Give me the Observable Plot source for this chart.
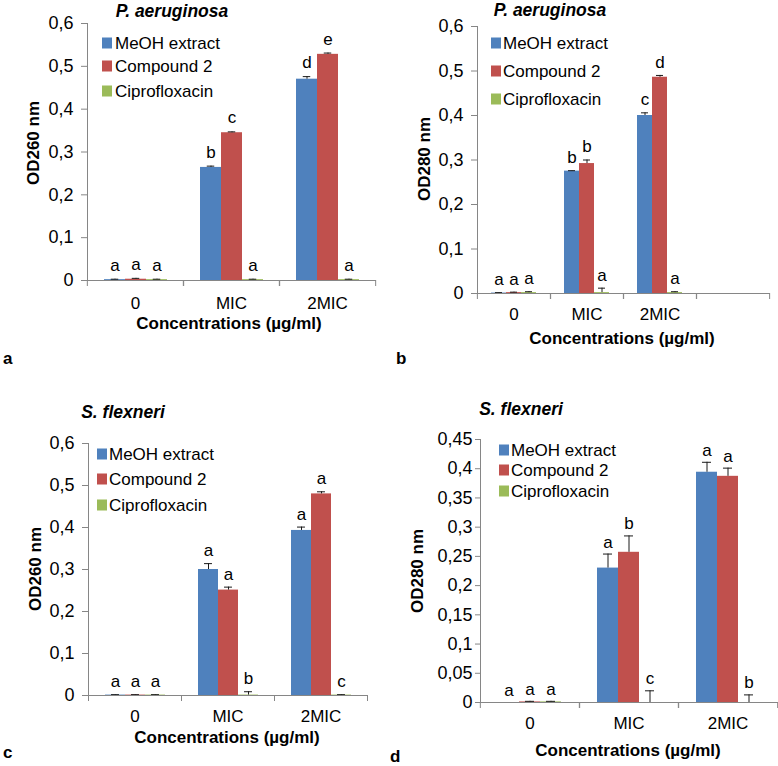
<!DOCTYPE html>
<html><head><meta charset="utf-8">
<script src="https://cdn.jsdelivr.net/npm/d3@7"></script>
<script src="https://cdn.jsdelivr.net/npm/@observablehq/plot@0.6"></script>
<style>
body{margin:0;background:#fff;}
#root{position:relative;width:778px;height:766px;overflow:hidden;font-family:"Liberation Sans",Arial,sans-serif;color:#000;background:#fff;}
.abs{position:absolute;white-space:nowrap;line-height:1;}
.panel{position:absolute;}
.ttl{font-weight:bold;font-style:italic;font-size:17.5px;transform:translate(-50%,-50%);}
.xt{font-weight:bold;font-size:17px;transform:translate(-50%,-50%);}
.yt{font-weight:bold;font-size:17px;transform:translate(-50%,-50%) rotate(-90deg);}
.lt{font-weight:bold;font-size:17px;transform:translate(0,-50%);}
.sw{width:10px;height:11px;transform:translate(0,-50%);}
.lg{font-size:17px;transform:translate(0,-50%);}
</style></head><body><div id="root"></div>
<script>
const categories = ["0", "MIC", "2MIC"];
const series = ["MeOH extract", "Compound 2", "Ciprofloxacin"];
const colors = ["#4F81BD", "#C0504D", "#9BBB59"];
const xTitle = "Concentrations (µg/ml)";

// Panel a — P. aeruginosa, OD260
const aMeOH = [0.002, 0.264, 0.470];
const aComp = [0.003, 0.345, 0.528];
const aCipro = [0.002, 0.002, 0.002];
const aErrMeOH = [0.001, 0.003, 0.006];
const aErrComp = [0.002, 0.002, 0.003];
const aErrCipro = [0.001, 0.001, 0.001];
const aLetMeOH = ["a", "b", "d"];
const aLetComp = ["a", "c", "e"];
const aLetCipro = ["a", "a", "a"];
const aTicks = [0, 0.1, 0.2, 0.3, 0.4, 0.5, 0.6];

// Panel b — P. aeruginosa, OD280
const bMeOH = [0.001, 0.275, 0.400];
const bComp = [0.002, 0.292, 0.486];
const bCipro = [0.002, 0.002, 0.002];
const bErrMeOH = [0.001, 0.001, 0.006];
const bErrComp = [0.001, 0.008, 0.004];
const bErrCipro = [0.002, 0.010, 0.002];
const bLetMeOH = ["a", "b", "c"];
const bLetComp = ["a", "b", "d"];
const bLetCipro = ["a", "a", "a"];
const bTicks = [0, 0.1, 0.2, 0.3, 0.4, 0.5, 0.6];

// Panel c — S. flexneri, OD260
const cMeOH = [0.001, 0.300, 0.393];
const cComp = [0.001, 0.251, 0.480];
const cCipro = [0.001, 0.001, 0.001];
const cErrMeOH = [0.001, 0.014, 0.008];
const cErrComp = [0.001, 0.007, 0.005];
const cErrCipro = [0.001, 0.008, 0.001];
const cLetMeOH = ["a", "a", "a"];
const cLetComp = ["a", "a", "a"];
const cLetCipro = ["a", "b", "c"];
const cTicks = [0, 0.1, 0.2, 0.3, 0.4, 0.5, 0.6];

// Panel d — S. flexneri, OD280
const dMeOH = [0, 0.230, 0.394];
const dComp = [0.001, 0.257, 0.387];
const dCipro = [0.001, 0, 0];
const dErrMeOH = [0, 0.024, 0.017];
const dErrComp = [0.001, 0.028, 0.014];
const dErrCipro = [0.001, 0.020, 0.013];
const dLetMeOH = ["a", "a", "a"];
const dLetComp = ["a", "b", "a"];
const dLetCipro = ["a", "c", "b"];
const dTicks = [0, 0.05, 0.1, 0.15, 0.2, 0.25, 0.3, 0.35, 0.4, 0.45];

const FONT = '"Liberation Sans", Arial, sans-serif';
const AX = "#868686";
const ERR = "#1a1a1a";
const root = document.getElementById("root");

function rows(vals, errs, lets) {
  const out = [];
  categories.forEach((c, i) => series.forEach((s, j) =>
    out.push({cat: c, series: s, value: vals[j][i], err: errs[j][i], letter: lets[j][i]})));
  return out;
}

function add(cls, text, x, y, extra) {
  const el = document.createElement("div");
  el.className = "abs " + cls;
  el.textContent = text;
  el.style.left = x + "px";
  el.style.top = y + "px";
  if (extra) Object.assign(el.style, extra);
  root.appendChild(el);
  return el;
}

function drawPanel(p) {
  const data = rows(p.vals, p.errs, p.lets);
  const innerW = p.width - p.ml - p.mr;
  const bw = innerW / p.fxDomain.length;
  const barW = bw / (3 + 2 * p.po);
  const capInset = Math.max(0, (barW - p.cap) / 2);
  const fmt = d => String(d).replace(".", ",");
  const withErr = data.filter(d => d.err > 0);
  const chart = Plot.plot({
    width: p.width, height: p.height,
    marginTop: p.mt, marginBottom: p.mb, marginLeft: p.ml, marginRight: p.mr,
    style: {fontFamily: FONT, fontSize: "17px", background: "transparent", overflow: "visible", color: "#000"},
    fx: {domain: p.fxDomain, padding: 0, axis: null, label: null},
    x: {domain: series, paddingInner: 0, paddingOuter: p.po, axis: null, label: null},
    y: {domain: [0, p.ymax], axis: null, label: null},
    color: {domain: series, range: colors},
    marks: [
      Plot.barY(data, {fx: "cat", x: "series", y: "value", fill: "series"}),
      Plot.ruleX(withErr, {fx: "cat", x: "series", y1: "value", y2: d => d.value + d.err, stroke: ERR, strokeWidth: 1}),
      Plot.tickY(withErr, {fx: "cat", x: "series", y: d => d.value + d.err, stroke: ERR, strokeWidth: 1, insetLeft: capInset, insetRight: capInset}),
      Plot.text(data, {fx: "cat", x: "series", y: d => d.value + d.err, text: "letter", dy: p.ldy, fontSize: 17, fill: "#000"}),
      Plot.frame({anchor: "left", facet: "super", stroke: AX}),
      Plot.frame({anchor: "bottom", facet: "super", stroke: AX}),
      Plot.axisY({ticks: p.yticks, tickFormat: fmt, tickSize: p.ts, tickPadding: p.tp, stroke: AX, fill: "#000", fontSize: 18, label: null}),
      Plot.axisFx({anchor: "bottom", tickSize: 6, tickFormat: () => "", dx: -bw / 2, stroke: AX, label: null}),
      Plot.axisFx({anchor: "bottom", tickSize: 6, tickFormat: () => "", dx: bw / 2, stroke: AX, label: null}),
      Plot.axisFx({anchor: "bottom", tickSize: 0, tickPadding: p.xtp, fontSize: 17, fill: "#000", label: null})
    ]
  });
  const wrap = document.createElement("div");
  wrap.className = "panel";
  wrap.style.left = p.left + "px";
  wrap.style.top = p.top + "px";
  wrap.appendChild(chart);
  root.appendChild(wrap);

  add("ttl", p.title, p.title_x, p.title_y);
  add("xt", xTitle, p.xt_x, p.xt_y);
  add("yt", p.yTitle, p.yt_x, p.yt_y);
  add("lt", p.letter, p.lt_x, p.lt_y);
  series.forEach((s, j) => {
    const y = p.lg_y[j];
    add("sw", "", p.sw_x, y, {background: colors[j]});
    add("lg", s, p.lgt_x, y);
  });
}

drawPanel({
  left: 0, top: 0, width: 389, height: 330, mt: 23, mb: 50, ml: 86, mr: 14,
  fxDomain: categories, po: 0.74, cap: 8, ymax: 0.6, yticks: aTicks, ts: 6, tp: 8, xtp: 16, ldy: -14,
  vals: [aMeOH, aComp, aCipro], errs: [aErrMeOH, aErrComp, aErrCipro], lets: [aLetMeOH, aLetComp, aLetCipro],
  title: "P. aeruginosa", title_x: 172, title_y: 12,
  yTitle: "OD260 nm", yt_x: 33, yt_y: 143,
  xt_x: 229, xt_y: 323, letter: "a", lt_x: 3, lt_y: 358,
  sw_x: 102, lgt_x: 115, lg_y: [43, 66, 91]
});

drawPanel({
  left: 389, top: 0, width: 389, height: 330, mt: 26, mb: 37, ml: 87, mr: 9,
  fxDomain: [...categories, ""], po: 0.79, cap: 8, ymax: 0.6, yticks: bTicks, ts: 6, tp: 8, xtp: 14, ldy: -13,
  vals: [bMeOH, bComp, bCipro], errs: [bErrMeOH, bErrComp, bErrCipro], lets: [bLetMeOH, bLetComp, bLetCipro],
  title: "P. aeruginosa", title_x: 550, title_y: 11,
  yTitle: "OD280 nm", yt_x: 424, yt_y: 159,
  xt_x: 622, xt_y: 338, letter: "b", lt_x: 396, lt_y: 358,
  sw_x: 491, lgt_x: 503, lg_y: [43, 71, 99]
});

drawPanel({
  left: 0, top: 380, width: 389, height: 386, mt: 63, mb: 71, ml: 88, mr: 22,
  fxDomain: categories, po: 0.82, cap: 8, ymax: 0.6, yticks: cTicks, ts: 6, tp: 8, xtp: 14, ldy: -13,
  vals: [cMeOH, cComp, cCipro], errs: [cErrMeOH, cErrComp, cErrCipro], lets: [cLetMeOH, cLetComp, cLetCipro],
  title: "S. flexneri", title_x: 123, title_y: 413,
  yTitle: "OD260 nm", yt_x: 35, yt_y: 569,
  xt_x: 227, xt_y: 737, letter: "c", lt_x: 3, lt_y: 752,
  sw_x: 97, lgt_x: 109, lg_y: [454, 479, 505]
});

drawPanel({
  left: 389, top: 380, width: 389, height: 386, mt: 59, mb: 64, ml: 90, mr: 1,
  fxDomain: categories, po: 0.76, cap: 10, ymax: 0.45, yticks: dTicks, ts: 5, tp: 3, xtp: 14, ldy: -12,
  vals: [dMeOH, dComp, dCipro], errs: [dErrMeOH, dErrComp, dErrCipro], lets: [dLetMeOH, dLetComp, dLetCipro],
  title: "S. flexneri", title_x: 521, title_y: 410,
  yTitle: "OD280 nm", yt_x: 417, yt_y: 571,
  xt_x: 628, xt_y: 750, letter: "d", lt_x: 390, lt_y: 756,
  sw_x: 499, lgt_x: 511, lg_y: [450, 470, 491]
});
</script>
</body></html>
